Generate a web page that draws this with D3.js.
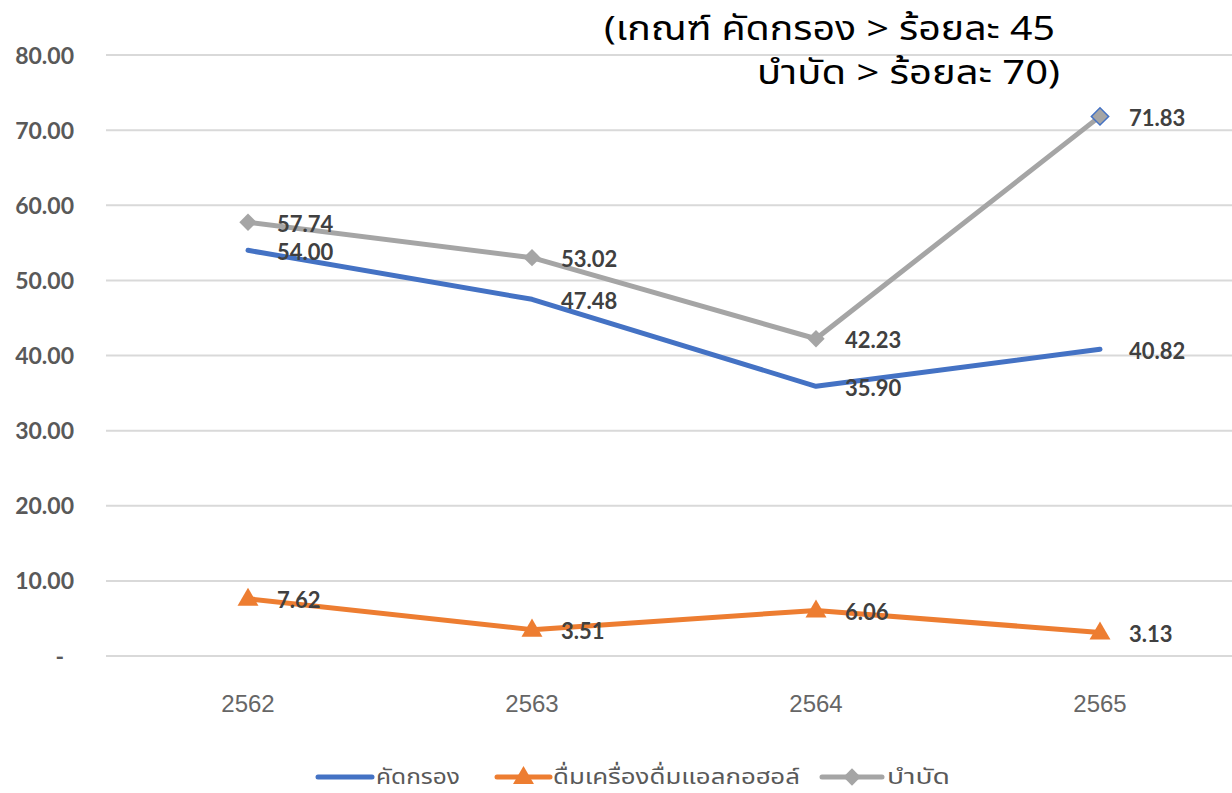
<!DOCTYPE html>
<html>
<head>
<meta charset="utf-8">
<script src="https://cdn.jsdelivr.net/npm/d3@7"></script>
<style>
  html, body { margin: 0; padding: 0; background: #fff; }
  svg { display: block; }
</style>
</head>
<body>
<svg id="chart" width="1232" height="793"></svg>
<script>
// Data
const years = ["2562", "2563", "2564", "2565"];
const screening = [54.00, 47.48, 35.90, 40.82];      // คัดกรอง
const alcohol = [7.62, 3.51, 6.06, 3.13];            // ดื่มเครื่องดื่มแอลกอฮอล์
const treatment = [57.74, 53.02, 42.23, 71.83];      // บำบัด
const yTicks = [0, 10, 20, 30, 40, 50, 60, 70, 80];
const seriesNames = ["คัดกรอง", "ดื่มเครื่องดื่มแอลกอฮอล์", "บำบัด"];
const titleLines = ["(เกณฑ์ คัดกรอง > ร้อยละ 45", "บำบัด > ร้อยละ 70)"];

const W = 1232, H = 793;
const svg = d3.select("#chart");

const x = d3.scaleBand().domain(years).range([106, 1242]).padding(0);
const y = d3.scaleLinear().domain([0, 80]).range([656, 55]);
const cx = d => x(d) + x.bandwidth() / 2;

const numFont = "Lato, 'Open Sans', sans-serif";
const thaiFont = "'Noto Sans Thai', 'Noto Sans', Tahoma, sans-serif";

// Value axis labels
const yAxis = d3.axisLeft(y).tickValues(yTicks).tickSize(0)
  .tickFormat(v => v === 0 ? "-" : d3.format(".2f")(v));
const gy = svg.append("g").attr("transform", "translate(74,0)").call(yAxis);
gy.select(".domain").remove();
gy.selectAll("text")
  .attr("x", v => v === 0 ? -10 : 0)
  .attr("dy", "0.35em")
  .style("font-family", numFont).style("font-size", "23px")
  .style("font-weight", "bold").style("fill", "#595959");

// Horizontal gridlines
svg.append("g").selectAll("line").data(yTicks).join("line")
  .attr("x1", 106).attr("x2", W)
  .attr("y1", d => y(d)).attr("y2", d => y(d))
  .attr("stroke", "#d9d9d9").attr("stroke-width", 2);

// Category axis labels
const xAxis = d3.axisBottom(x).tickSize(0);
const gx = svg.append("g").attr("transform", "translate(0,656)").call(xAxis);
gx.select(".domain").remove();
gx.selectAll("text")
  .attr("y", 48).attr("dy", "0.35em")
  .style("font-family", "'Liberation Sans', Arial, sans-serif").style("font-size", "24px")
  .style("fill", "#666666");

// Title (two lines)
const title = svg.append("g").style("font-family", thaiFont).style("font-size", "33px").style("fill", "#000");
title.append("text").attr("x", 604).attr("y", 40)
  .attr("textLength", 451).attr("lengthAdjust", "spacingAndGlyphs").text(titleLines[0]);
title.append("text").attr("x", 757).attr("y", 84)
  .attr("textLength", 303).attr("lengthAdjust", "spacingAndGlyphs").text(titleLines[1]);

// Lines
const line = d3.line().x(d => cx(d.year)).y(d => y(d.v));
const mk = arr => years.map((yr, i) => ({ year: yr, v: arr[i] }));

const series = [
  { data: mk(screening), color: "#4472C4", marker: null },
  { data: mk(alcohol), color: "#ED7D31", marker: "triangle" },
  { data: mk(treatment), color: "#A5A5A5", marker: "diamond" }
];

const triangle = d3.symbol().type(d3.symbolTriangle).size(190);
const diamond = d3.symbol().type(d3.symbolSquare).size(150);

series.forEach(s => {
  svg.append("path").datum(s.data)
    .attr("d", line).attr("fill", "none")
    .attr("stroke", s.color).attr("stroke-width", 5)
    .attr("stroke-linejoin", "round").attr("stroke-linecap", "round");
});

// Markers
series.forEach(s => {
  if (!s.marker) return;
  svg.append("g").selectAll("path").data(s.data).join("path")
    .attr("d", s.marker === "triangle" ? triangle : diamond)
    .attr("transform", d => s.marker === "triangle"
      ? `translate(${cx(d.year)},${y(d.v) + 1})`
      : `translate(${cx(d.year)},${y(d.v)}) rotate(45)`)
    .attr("fill", s.color)
    .attr("stroke", (d, i) => s.marker === "diamond" && i === 3 ? "#4472C4" : "none")
    .attr("stroke-width", 1.5);
});

// Data labels
series.forEach(s => {
  svg.append("g").selectAll("text").data(s.data).join("text")
    .attr("x", d => cx(d.year) + 29)
    .attr("y", d => y(d.v) + 2)
    .attr("dy", "0.35em")
    .style("font-family", numFont).style("font-size", "22px")
    .style("font-weight", "bold").style("fill", "#404040")
    .text(d => d3.format(".2f")(d.v));
});

// Legend
const legend = svg.append("g").style("font-family", thaiFont).style("font-size", "22px").style("fill", "#595959");
const legendItems = [
  { x: 318, w: 54, tx: 376, tw: 84 },
  { x: 497, w: 53, tx: 553, tw: 247 },
  { x: 822, w: 60, tx: 887, tw: 63 }
];
legendItems.forEach((it, i) => {
  const s = series[i];
  legend.append("line").attr("x1", it.x).attr("x2", it.x + it.w)
    .attr("y1", 777).attr("y2", 777)
    .attr("stroke", s.color).attr("stroke-width", 5).attr("stroke-linecap", "round");
  if (s.marker) {
    legend.append("path")
      .attr("d", s.marker === "triangle" ? triangle : diamond)
      .attr("transform", s.marker === "triangle"
        ? `translate(${it.x + it.w / 2},778)` : `translate(${it.x + it.w / 2},777) rotate(45)`)
      .attr("fill", s.color);
  }
  legend.append("text").attr("x", it.tx).attr("y", 784)
    .attr("textLength", it.tw).attr("lengthAdjust", "spacingAndGlyphs")
    .text(seriesNames[i]);
});
</script>
</body>
</html>
